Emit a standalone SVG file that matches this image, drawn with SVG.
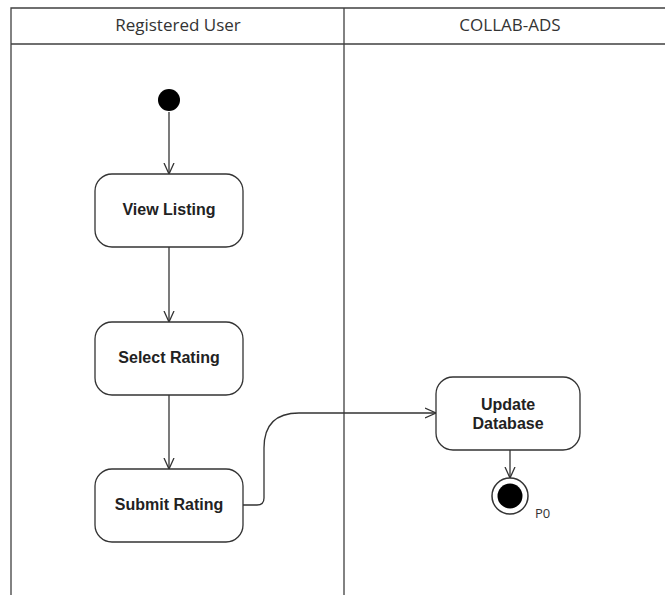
<svg xmlns="http://www.w3.org/2000/svg" width="665" height="595" viewBox="0 0 665 595">
<style>
.lane{fill:none;stroke:#404040;stroke-width:1.3}
.hdr{font-family:"Open Sans","Liberation Sans",sans-serif;font-size:17px;fill:#333;text-anchor:middle}
.act{fill:#fff;stroke:#333;stroke-width:1.3}
.lbl{font-family:"Liberation Sans",Arial,sans-serif;font-size:16px;font-weight:bold;fill:#222;text-anchor:middle}
.edge{fill:none;stroke:#333;stroke-width:1.3}
.small{font-family:"Open Sans","Liberation Sans",sans-serif;font-size:13px;fill:#333}
</style>
<defs>
<marker id="open" viewBox="0 0 12 12" refX="11" refY="6" markerWidth="12" markerHeight="12" markerUnits="userSpaceOnUse" orient="auto">
<path d="M0,1 L11,6 L0,11" fill="none" stroke="#333" stroke-width="1.3"/>
</marker>
</defs>
<rect width="665" height="595" fill="#fff"/>
<g id="swimlanes">
<path class="lane" d="M11,595 V8 H665 M11,44 H665 M344,8 V595"/>
<text class="hdr" x="178" y="31">Registered User</text>
<text class="hdr" x="510" y="31">COLLAB-ADS</text>
</g>
<g id="connectors">
<path class="edge" d="M169,112 V174" marker-end="url(#open)"/>
<path class="edge" d="M169,247 V322" marker-end="url(#open)"/>
<path class="edge" d="M169,395 V469" marker-end="url(#open)"/>
<path class="edge" d="M243,505 H257 Q264,505 264,498 V448 Q264,413 299,413 H436" marker-end="url(#open)"/>
<path class="edge" d="M510,450 V478" marker-end="url(#open)"/>
</g>
<g id="start">
<circle cx="169" cy="100" r="11" fill="#000"/>
</g>
<g id="view-listing">
<rect class="act" x="95" y="174" width="148" height="73" rx="17"/>
<text class="lbl" x="169" y="215">View Listing</text>
</g>
<g id="select-rating">
<rect class="act" x="95" y="322" width="148" height="73" rx="17"/>
<text class="lbl" x="169" y="363">Select Rating</text>
</g>
<g id="submit-rating">
<rect class="act" x="95" y="469" width="148" height="73" rx="17"/>
<text class="lbl" x="169" y="510">Submit Rating</text>
</g>
<g id="update-database">
<rect class="act" x="436" y="377" width="144" height="73" rx="17"/>
<text class="lbl" x="508" y="410">Update</text>
<text class="lbl" x="508" y="429">Database</text>
</g>
<g id="end">
<circle cx="510" cy="496" r="18" fill="#fff" stroke="#333" stroke-width="1.5"/>
<circle cx="510" cy="496" r="12.5" fill="#000"/>
<text class="small" x="535" y="518">P0</text>
</g>
</svg>
